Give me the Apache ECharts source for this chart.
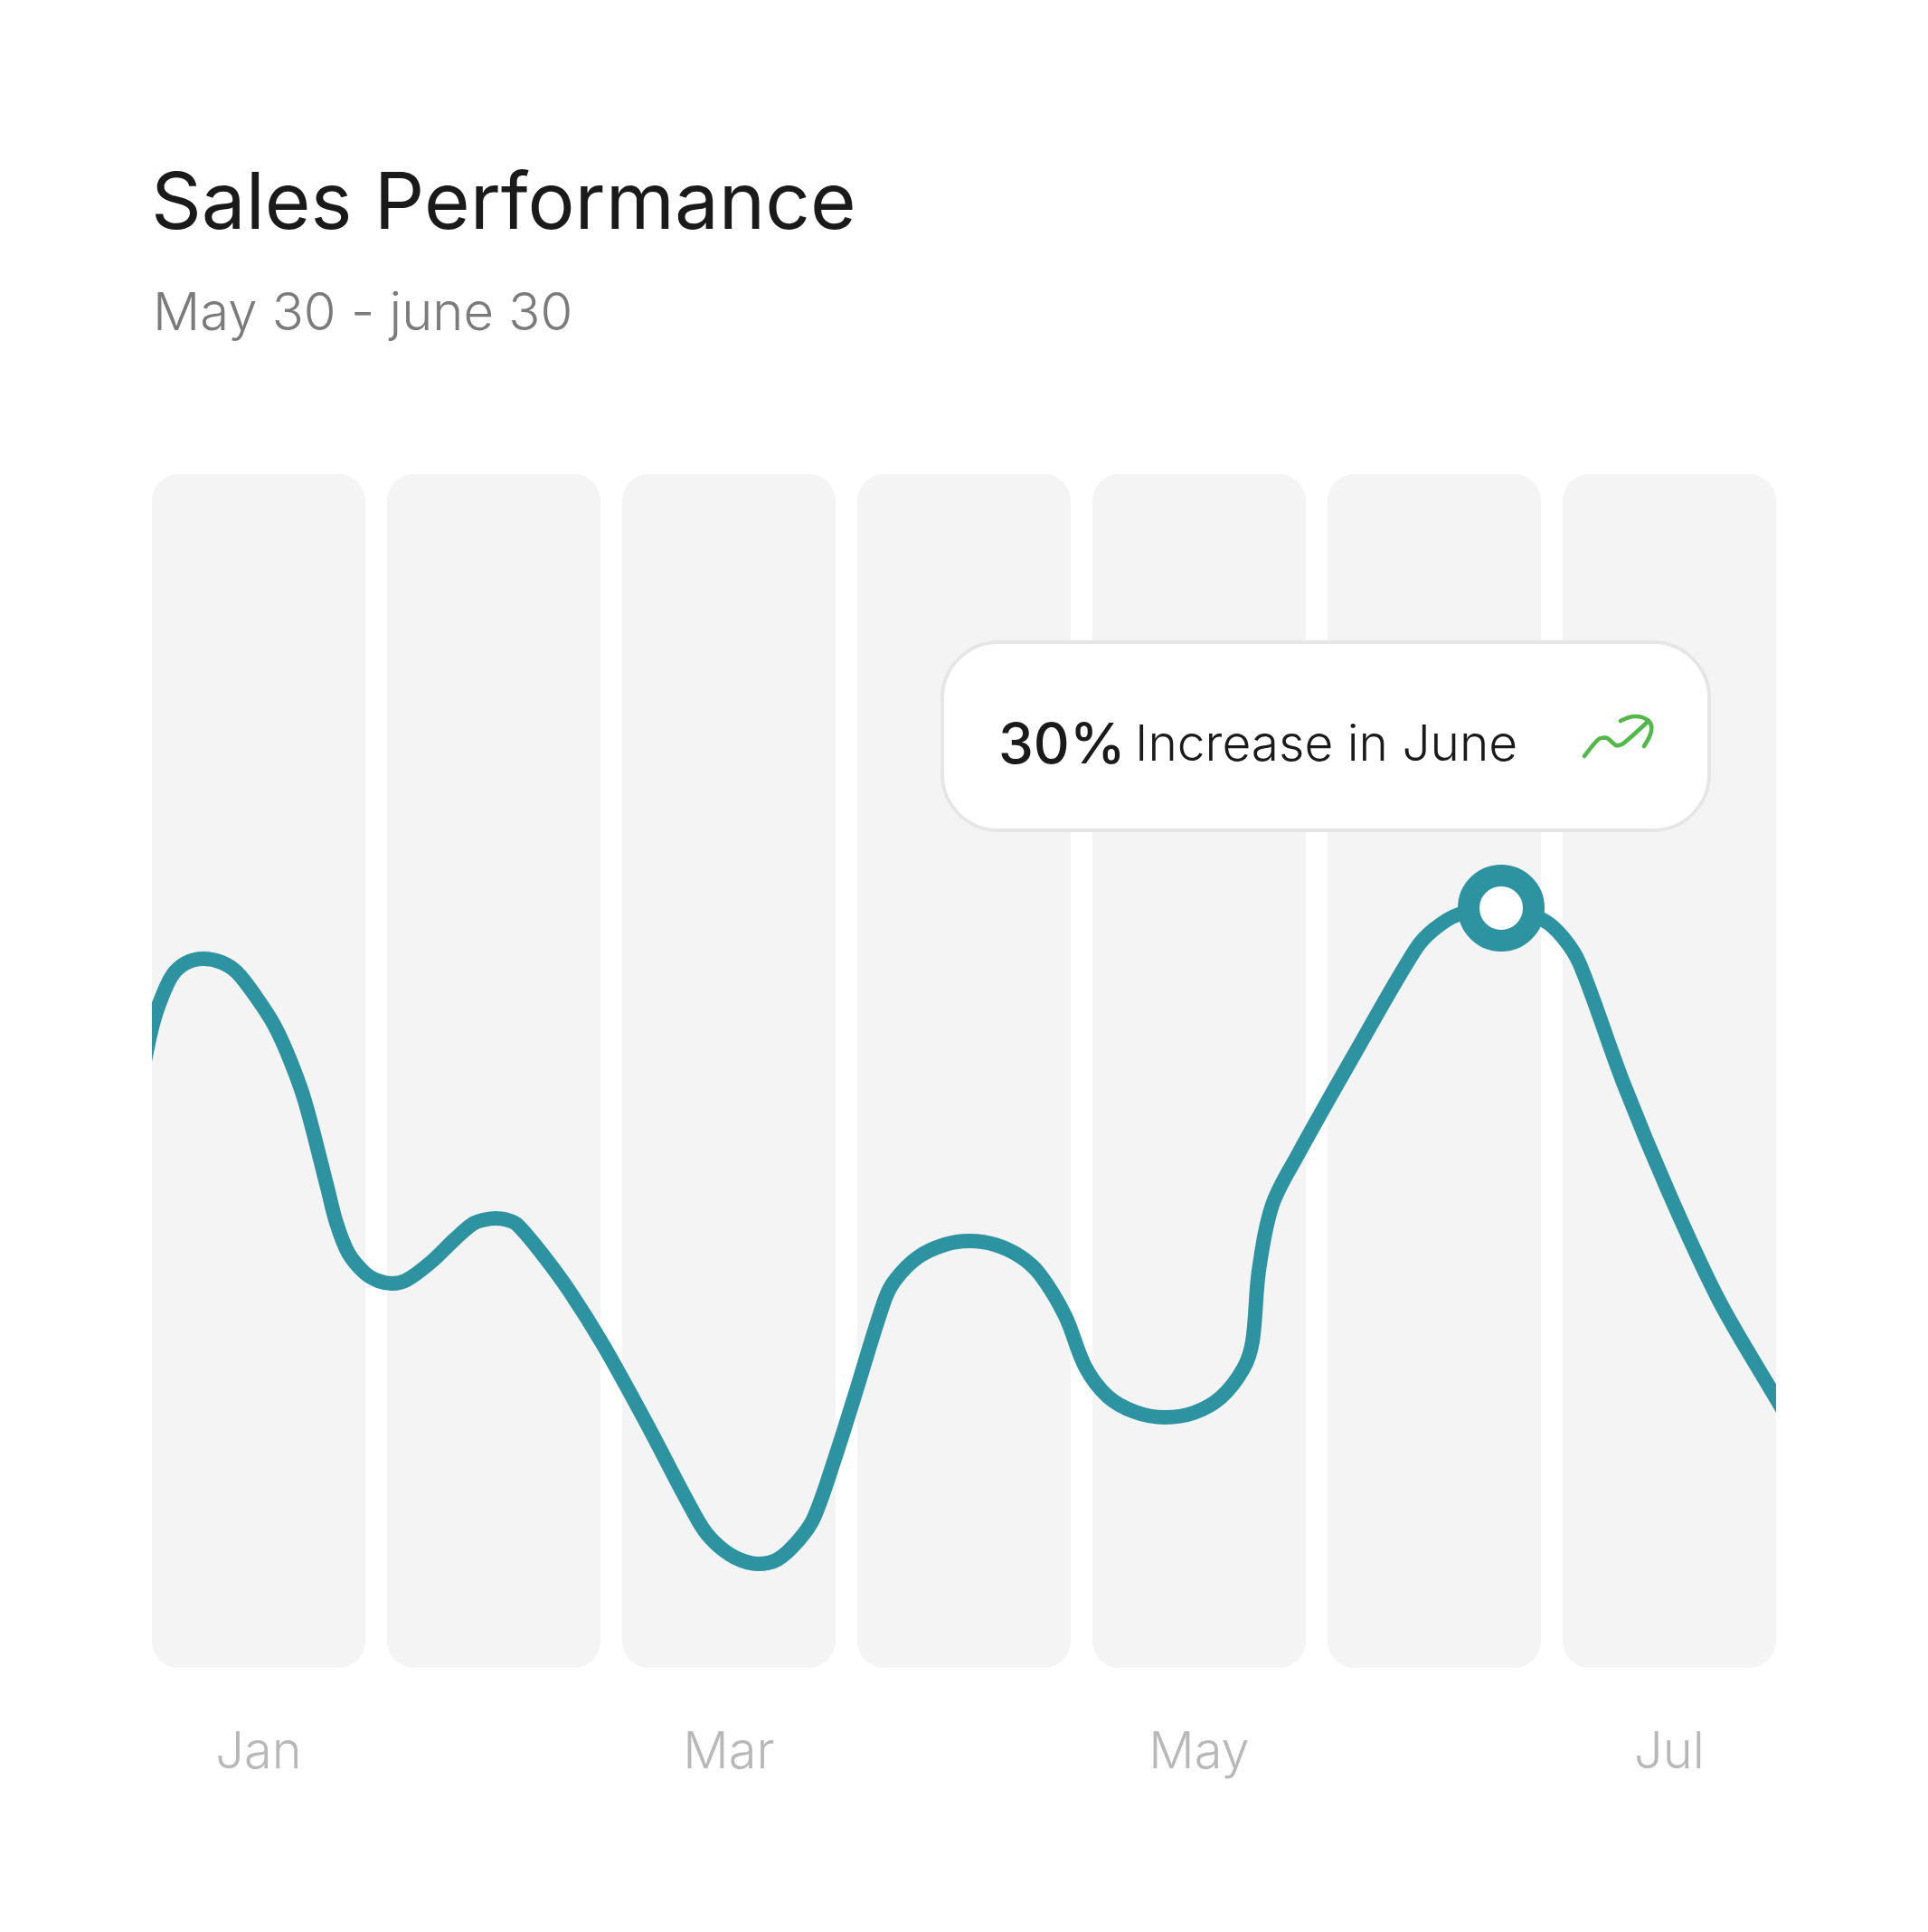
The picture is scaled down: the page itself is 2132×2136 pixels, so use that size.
<!DOCTYPE html>
<html>
<head>
<meta charset="utf-8">
<style>html,body{margin:0;padding:0;background:#fff}#chart{width:2132px;height:2136px}</style>
<script src="https://cdn.jsdelivr.net/npm/echarts@6/dist/echarts.min.js"></script>
</head>
<body>
<div id="chart"></div>
<script>
const months = ['Jan', 'Feb', 'Mar', 'Apr', 'May', 'Jun', 'Jul'];
const bandTop = [132, 132, 132, 132, 132, 132, 132];
// Trading day (26 per month) and sales level for the trend line
const tradingDay = [0.3, 1.2, 2.0, 3.4, 4.9, 6.9, 8.9, 10.6, 12.7, 14.7, 16.4, 18.1, 20.6, 21.6, 22.9, 24.7, 26.2, 27.7, 29.4, 32.1, 34.7, 36.7, 38.0, 39.2, 40.4, 41.6, 44.4, 47.4, 51.1, 55.7, 61.7, 63.4, 65.7, 68.2, 70.4, 72.7, 74.4, 76.7, 78.7, 82.2, 83.4, 85.9, 88.9, 91.6, 94.4, 97.2, 99.4, 102.2, 104.4, 106.9, 109.9, 113.2, 116.4, 119.4, 121.9, 122.9, 123.6, 125.1, 127.9, 134.2, 140.9, 142.9, 145.7, 150.4, 155.0, 157.2, 159.1, 163.9, 169.0, 174.5, 180.8, 181.8];
const salesLevel = [66.5, 70.7, 73.3, 76.4, 77.8, 78.3, 77.9, 76.8, 74.1, 71.0, 67.3, 62.6, 53.0, 49.1, 45.8, 43.6, 42.7, 42.4, 42.8, 44.8, 47.3, 49.0, 49.45, 49.6, 49.45, 48.9, 45.6, 41.5, 35.6, 27.3, 16.0, 13.8, 12.1, 11.4, 11.9, 14.0, 16.5, 23.0, 29.3, 40.5, 42.8, 45.3, 46.7, 47.1, 46.7, 45.4, 43.4, 38.8, 33.2, 29.9, 28.2, 27.6, 28.1, 29.8, 33.0, 36.0, 43.8, 51.1, 56.6, 67.8, 79.3, 81.5, 83.2, 83.9, 82.6, 80.7, 77.7, 64.6, 52.3, 40.5, 29.7, 28.0];

const titleText = 'Sales Performance';
const subtitleText = 'May 30 - june 30';
const calloutValue = '30%';
const calloutText = 'Increase in June';

const TEAL = '#2e93a0';
const GREEN = '#52b84a';
const peak = salesLevel.indexOf(Math.max(...salesLevel));
const trend = tradingDay.map((d, i) => [d, salesLevel[i]]);

const chart = echarts.init(document.getElementById('chart'), null, { renderer: 'canvas' });
chart.setOption({
  animation: false,
  backgroundColor: '#ffffff',
  title: [
    {
      left: 162, top: 178,
      text: titleText,
      textStyle: { fontFamily: 'Inter', fontWeight: 400, fontSize: 87, color: '#1a1a1a' }
    },
    {
      left: 164, top: 314,
      text: subtitleText,
      textStyle: { fontFamily: 'Inter', fontWeight: 300, fontSize: 58, color: '#7b7b7b' }
    }
  ],
  // The line's grid is inset by half a stroke because its clip rectangle grows by that much
  grid: [
    { left: 156, top: 524, width: 1820, height: 1320 },
    { left: 176, top: 523, width: 1780, height: 1320 }
  ],
  xAxis: [
    {
      type: 'category', gridIndex: 0, data: months,
      axisLine: { show: false }, axisTick: { show: false }, splitLine: { show: false },
      axisLabel: { interval: 1, margin: 66, fontFamily: 'Inter', fontWeight: 300, fontSize: 56, color: '#b8b8b8' }
    },
    { type: 'value', gridIndex: 1, min: 2, max: 180, show: false, splitLine: { show: false } }
  ],
  yAxis: [
    { type: 'value', gridIndex: 0, min: 0, max: 132, show: false, splitLine: { show: false } },
    { type: 'value', gridIndex: 1, min: 0, max: 132, show: false, splitLine: { show: false } }
  ],
  series: [
    {
      type: 'bar', xAxisIndex: 0, yAxisIndex: 0, data: bandTop, barWidth: 236, silent: true,
      itemStyle: { color: '#f4f4f4', borderRadius: 30 }
    },
    {
      type: 'line', xAxisIndex: 1, yAxisIndex: 1, data: trend, smooth: 0.33, clip: true,
      showSymbol: false, silent: true,
      lineStyle: { color: TEAL, width: 16 }
    },
    {
      type: 'scatter', xAxisIndex: 1, yAxisIndex: 1, data: [trend[peak]], symbol: 'circle', symbolSize: 72, silent: true,
      clip: false,
      itemStyle: { color: '#ffffff', borderColor: TEAL, borderWidth: 24, opacity: 1 }, z: 5
    }
  ],
  graphic: [
    {
      type: 'rect', z: 10, silent: true,
      shape: { x: 1042, y: 710, width: 848, height: 208, r: 62 },
      style: { fill: '#ffffff', stroke: '#e6e6e6', lineWidth: 4 }
    },
    {
      type: 'text', z: 11, silent: true, x: 1104, y: 856,
      style: { text: calloutValue, fontFamily: 'Inter', fontWeight: 500, fontSize: 62, fill: '#1a1a1a', verticalAlign: 'bottom' }
    },
    {
      type: 'text', z: 11, silent: true, x: 1255, y: 852,
      style: { text: calloutText, fontFamily: 'Inter', fontWeight: 300, fontSize: 55, fill: '#1a1a1a', verticalAlign: 'bottom' }
    },
    // Upward-trend icon: squiggle and arrow head
    {
      type: 'polyline', z: 11, silent: true,
      shape: { points: [[1752, 836], [1768, 817], [1777, 816], [1787, 824], [1795, 822], [1823, 797]], smooth: 0.25 },
      style: { fill: null, stroke: GREEN, lineWidth: 4.6, lineCap: 'round', lineJoin: 'round' }
    },
    {
      type: 'polyline', z: 11, silent: true,
      shape: { points: [[1792, 797], [1808, 792], [1823, 797], [1826, 808], [1818, 825]], smooth: 0.4 },
      style: { fill: null, stroke: GREEN, lineWidth: 4.6, lineCap: 'round', lineJoin: 'round' }
    }
  ]
});
</script>
</body>
</html>
